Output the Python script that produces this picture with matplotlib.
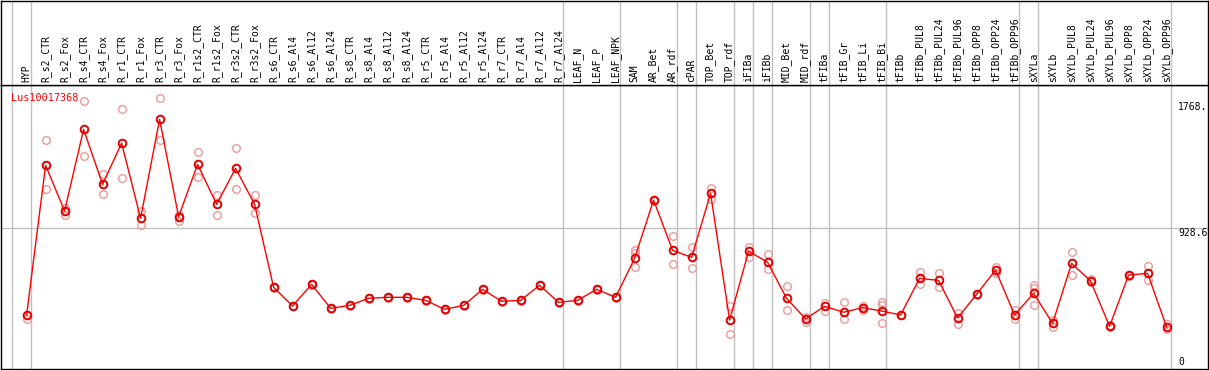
import matplotlib
matplotlib.use("Agg")
import matplotlib.pyplot as plt

# sample names, left to right
samples = [
    "HYP", "R_s2_CTR", "R_s2_Fox", "R_s4_CTR", "R_s4_Fox", "R_r1_CTR", "R_r1_Fox",
    "R_r3_CTR", "R_r3_Fox", "R_r1s2_CTR", "R_r1s2_Fox", "R_r3s2_CTR", "R_r3s2_Fox",
    "R_s6_CTR", "R_s6_Al4", "R_s6_Al12", "R_s6_Al24", "R_s8_CTR", "R_s8_Al4",
    "R_s8_Al12", "R_s8_Al24", "R_r5_CTR", "R_r5_Al4", "R_r5_Al12", "R_r5_Al24",
    "R_r7_CTR", "R_r7_Al4", "R_r7_Al12", "R_r7_Al24", "LEAF_N", "LEAF_P", "LEAF_NPK",
    "SAM", "AR_Bet", "AR_rdf", "cPAR", "TOP_Bet", "TOP_rdf", "iFIBa", "iFIBb",
    "MID_Bet", "MID_rdf", "tFIBa", "tFIB_Gr", "tFIB_Li", "tFIB_Bi", "tFIBb",
    "tFIBb_PUL8", "tFIBb_PUL24", "tFIBb_PUL96", "tFIBb_OPP8", "tFIBb_OPP24",
    "tFIBb_OPP96", "sXYLa", "sXYLb", "sXYLb_PUL8", "sXYLb_PUL24", "sXYLb_PUL96",
    "sXYLb_OPP8", "sXYLb_OPP24", "sXYLb_OPP96",
]

# mean expression per sample
means = [
    361, 1343, 1043, 1579, 1218, 1489, 995, 1645, 1006, 1350, 1087, 1323, 1087,
    543, 420, 562, 405, 424, 470, 477, 477, 457, 398, 424, 529, 451, 457, 556, 444,
    457, 529, 477, 733, 1115, 785, 739, 1159, 328, 779, 707, 470, 335, 418, 379,
    409, 387, 361, 601, 588, 341, 497, 656, 361, 503, 306, 700, 584, 287, 623, 634, 282,
]

# individual replicates per sample
replicates = [
    [337, 361], [1507, 1186, 1343], [1045, 1020, 1060], [1763, 1402], [1284, 1153, 1218],
    [1711, 1258], [1043, 954], [1783, 1507], [1015, 980], [1428, 1269], [1146, 1019],
    [1455, 1186], [1146, 1028], [543, 540], [420, 418], [562, 560], [405, 403],
    [424, 422], [470, 468], [477, 475], [477, 475], [457, 455], [398, 396], [424, 422],
    [529, 527], [451, 449], [457, 455], [556, 554], [444, 442], [457, 455], [529, 527],
    [477, 475], [787, 678, 765], [1115, 1112], [879, 693], [805, 667], [1192, 1120],
    [420, 234], [809, 744], [761, 661], [549, 394], [348, 313], [442, 390],
    [444, 335], [420, 395], [444, 308, 425], [361, 359], [645, 562], [634, 542],
    [376, 300], [497, 495], [678, 634], [391, 337], [558, 535, 426], [328, 280],
    [776, 621], [597, 575], [280, 295], [623, 615], [682, 591], [300, 270],
]

gene = "Lus10017368"
mean_line = 928.6
top_label = "1768."
# columns followed by a grey separator
separators = [-1, 0, 28, 31, 34, 35, 37, 38, 39, 41, 42, 45, 52, 53, 60]

mono = "DejaVu Sans Mono"
W, H = 1209, 370
fig = plt.figure(figsize=(W / 100, H / 100), dpi=100)

xmin = (1 - 26.6) / 19
xmax = (1208 - 26.6) / 19

ax = fig.add_axes([1 / W, 1 / H, 1207 / W, 284 / H])
hd = fig.add_axes([1 / W, 285 / H, 1207 / W, 84 / H])

xs = list(range(len(samples)))

for a in (ax, hd):
    a.set_xlim(xmin, xmax)
    a.set_xticks([])
    a.set_yticks([])
    for s in a.spines.values():
        s.set_color("black")
        s.set_linewidth(1)
    for k in separators:
        a.axvline(k + 0.23, color="#c0c0c0", lw=1, zorder=0)

ax.set_ylim(6.6, 1870)
ax.axhline(mean_line, color="#c0c0c0", lw=1, zorder=0)

# replicate points
for x, reps in zip(xs, replicates):
    ax.plot([x] * len(reps), reps, "o", ms=5.5, mfc="none", mec="#ec9a9a",
            mew=1.0, zorder=2)

ax.plot(xs, means, "-", color="red", lw=1, zorder=3)
ax.plot(xs, means, "o", ms=5.5, mfc="none", mec="#e00000", mew=1.4, zorder=4)

ax.text(9.5 / 1207, (369 - 98) / 284, gene, transform=ax.transAxes, color="red",
        family=mono, fontsize=7.3, ha="left", va="center")

ax.text(1177 / 1207, (369 - 107) / 284, top_label, transform=ax.transAxes,
        family=mono, fontsize=7, ha="left", va="center")
ax.text(1177 / 1207, (369 - 232.5) / 284, f"{mean_line}", transform=ax.transAxes,
        family=mono, fontsize=7, ha="left", va="center")
ax.text(1177 / 1207, (369 - 362) / 284, "0", transform=ax.transAxes,
        family=mono, fontsize=7, ha="left", va="center")

hd.set_ylim(0, 1)
for x, name in zip(xs, samples):
    hd.text(x, 2.5 / 84, name, rotation=90, ha="center", va="bottom",
            family=mono, fontsize=7)

fig.savefig("out.png", dpi=100)
